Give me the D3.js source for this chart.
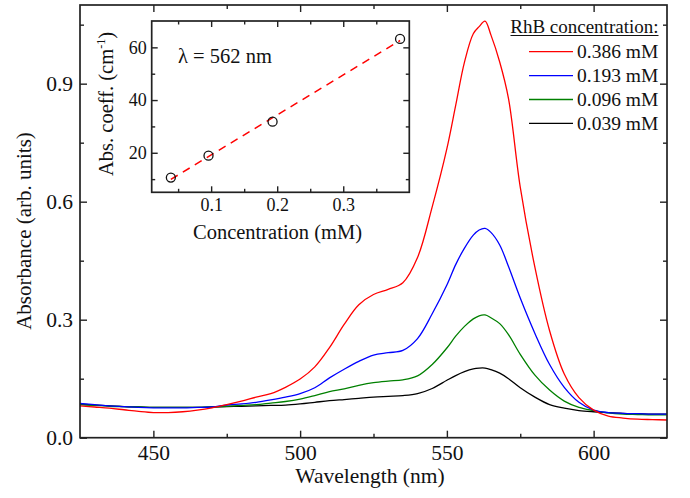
<!DOCTYPE html>
<html>
<head>
<meta charset="utf-8">
<script src="https://cdn.jsdelivr.net/npm/d3@7"></script>
<style>
  html, body { margin: 0; padding: 0; background: #fff; }
  svg { display: block; }
  svg text { font-family: "Liberation Serif", "Times New Roman", serif !important; fill: #111; }
</style>
</head>
<body>
<svg id="chart" width="690" height="498"></svg>
<script>
// Absorption spectra of Rhodamine B solutions (wavelength grid in nm)
const wavelength = [425,430,435,440,445,450,455,460,465,470,475,480,485,490,495,500,505,510,515,520,525,530,535,540,545,550,553,556,559,561,563,565,568,571,575,580,585,590,595,600,605,610,615,620,625];

const abs0386 = [0.081,0.078,0.075,0.071,0.067,0.064,0.064,0.066,0.070,0.076,0.084,0.093,0.103,0.112,0.128,0.149,0.180,0.229,0.288,0.338,0.364,0.377,0.394,0.458,0.587,0.735,0.845,0.955,1.027,1.045,1.059,1.024,0.955,0.862,0.637,0.433,0.272,0.162,0.102,0.070,0.055,0.050,0.047,0.046,0.045];
const abs0193 = [0.087,0.084,0.081,0.079,0.077,0.076,0.076,0.076,0.077,0.078,0.083,0.086,0.090,0.096,0.103,0.112,0.127,0.152,0.174,0.194,0.210,0.216,0.222,0.252,0.315,0.388,0.440,0.482,0.515,0.528,0.532,0.522,0.490,0.435,0.355,0.265,0.186,0.128,0.090,0.070,0.064,0.062,0.061,0.060,0.060];
const abs0096 = [0.084,0.082,0.080,0.079,0.078,0.077,0.077,0.077,0.077,0.078,0.080,0.082,0.084,0.088,0.092,0.098,0.107,0.117,0.124,0.133,0.140,0.144,0.147,0.157,0.186,0.228,0.258,0.283,0.302,0.310,0.312,0.305,0.290,0.262,0.212,0.159,0.121,0.093,0.077,0.069,0.063,0.060,0.059,0.058,0.058];
const abs0039 = [0.085,0.083,0.081,0.079,0.078,0.077,0.077,0.077,0.077,0.078,0.079,0.080,0.081,0.082,0.083,0.086,0.090,0.094,0.097,0.100,0.103,0.105,0.107,0.112,0.125,0.146,0.158,0.168,0.175,0.177,0.177,0.173,0.164,0.150,0.127,0.103,0.084,0.075,0.069,0.066,0.064,0.062,0.061,0.060,0.060];

const seriesLabels = ["0.386 mM", "0.193 mM", "0.096 mM", "0.039 mM"];
const seriesColors = ["#ff0000", "#0000ff", "#008000", "#000000"];
const seriesValues = [abs0386, abs0193, abs0096, abs0039];

const xTicks = [450, 500, 550, 600];
const xMinorTicks = [475, 525, 575];
const yTicks = [0.0, 0.3, 0.6, 0.9];
const yMinorTicks = [0.15, 0.45, 0.75, 1.05];

// Inset: absorption coefficient at 562 nm vs concentration
const concentration = [0.039, 0.096, 0.193, 0.386];
const absCoeff = [10.6, 18.9, 31.8, 63.2];
const fitConcentration = [0.039, 0.386];
const fitCoeff = [9.9, 62.6];
const insetXTicks = [0.1, 0.2, 0.3];
const insetXMinorTicks = [0.05, 0.15, 0.25, 0.35];
const insetYTicks = [20, 40, 60];
const insetYMinorTicks = [10, 30, 50];

const SERIF = "Liberation Serif, Times New Roman, serif";
const svg = d3.select("#chart");

// ---------- main panel ----------
const M = { left: 80, right: 667, top: 5, bottom: 437.7 };
const x = d3.scaleLinear().domain([425, 625]).range([M.left, M.right]);
const y = d3.scaleLinear().domain([0, 1.1]).range([M.bottom, M.top]);

const axisStyle = g => {
  g.attr("font-family", SERIF);
  g.select(".domain").remove();
  g.selectAll(".tick line").attr("stroke", "#222").attr("stroke-width", 1.4);
};

function addAxes(root, xs, ys, box, o) {
  const labelStyle = g => g.selectAll("text")
    .attr("font-size", o.fs).attr("font-family", SERIF).attr("fill", "#111");
  // bottom (labelled)
  root.append("g").attr("transform", `translate(0,${box.bottom})`)
    .call(d3.axisBottom(xs).tickValues(o.xT).tickSize(-o.major).tickPadding(o.padX).tickFormat(o.fx))
    .call(axisStyle).call(labelStyle);
  root.append("g").attr("transform", `translate(0,${box.bottom})`)
    .call(d3.axisBottom(xs).tickValues(o.xM).tickSize(-o.minor).tickFormat(""))
    .call(axisStyle);
  // top
  root.append("g").attr("transform", `translate(0,${box.top})`)
    .call(d3.axisTop(xs).tickValues(o.xT).tickSize(-o.major).tickFormat(""))
    .call(axisStyle);
  root.append("g").attr("transform", `translate(0,${box.top})`)
    .call(d3.axisTop(xs).tickValues(o.xM).tickSize(-o.minor).tickFormat(""))
    .call(axisStyle);
  // left (labelled)
  root.append("g").attr("transform", `translate(${box.left},0)`)
    .call(d3.axisLeft(ys).tickValues(o.yT).tickSize(-o.major).tickPadding(o.padY).tickFormat(o.fy))
    .call(axisStyle).call(labelStyle);
  root.append("g").attr("transform", `translate(${box.left},0)`)
    .call(d3.axisLeft(ys).tickValues(o.yM).tickSize(-o.minor).tickFormat(""))
    .call(axisStyle);
  // right
  root.append("g").attr("transform", `translate(${box.right},0)`)
    .call(d3.axisRight(ys).tickValues(o.yT).tickSize(-o.major).tickFormat(""))
    .call(axisStyle);
  root.append("g").attr("transform", `translate(${box.right},0)`)
    .call(d3.axisRight(ys).tickValues(o.yM).tickSize(-o.minor).tickFormat(""))
    .call(axisStyle);
  // frame
  root.append("rect")
    .attr("x", box.left).attr("y", box.top)
    .attr("width", box.right - box.left).attr("height", box.bottom - box.top)
    .attr("fill", "none").attr("stroke", "#222").attr("stroke-width", 1.7);
}

// spectra
const line = d3.line()
  .x((d, i) => x(wavelength[i]))
  .y(d => y(d))
  .curve(d3.curveCatmullRom.alpha(0.5));

svg.append("defs").append("clipPath").attr("id", "mainClip")
  .append("rect").attr("x", M.left).attr("y", M.top)
  .attr("width", M.right - M.left).attr("height", M.bottom - M.top);

svg.append("g").attr("clip-path", "url(#mainClip)")
  .selectAll("path.spectrum")
  .data(seriesValues.slice().reverse())
  .join("path")
  .attr("class", "spectrum")
  .attr("d", d => line(d))
  .attr("fill", "none")
  .attr("stroke", (d, i) => seriesColors[seriesColors.length - 1 - i])
  .attr("stroke-width", 1.3);

addAxes(svg, x, y, M, {
  xT: xTicks, xM: xMinorTicks, yT: yTicks, yM: yMinorTicks,
  major: 7, minor: 4, padX: 7, padY: 7, fs: 21.5,
  fx: d3.format("d"), fy: d3.format(".1f")
});

svg.append("text")
  .attr("x", 370).attr("y", 483)
  .attr("text-anchor", "middle").attr("font-size", 21.5).attr("font-family", SERIF)
  .text("Wavelength (nm)");

svg.append("text")
  .attr("transform", "translate(31,231) rotate(-90)")
  .attr("text-anchor", "middle").attr("font-size", 21).attr("font-family", SERIF)
  .text("Absorbance (arb. units)");

// legend
const legX0 = 529, legX1 = 573, legTextX = 577, legY0 = 51.7, legDy = 23.9;
svg.append("text")
  .attr("x", 658.5).attr("y", 33)
  .attr("text-anchor", "end").attr("font-size", 19).attr("font-family", SERIF)
  .text("RhB concentration:");
svg.append("line")
  .attr("x1", 510.5).attr("x2", 658.5).attr("y1", 35.5).attr("y2", 35.5)
  .attr("stroke", "#111").attr("stroke-width", 1);

const leg = svg.append("g").selectAll("g")
  .data(seriesLabels)
  .join("g")
  .attr("transform", (d, i) => `translate(0,${legY0 + i * legDy})`);
leg.append("line")
  .attr("x1", legX0).attr("x2", legX1)
  .attr("stroke", (d, i) => seriesColors[i]).attr("stroke-width", 1.3);
leg.append("text")
  .attr("x", legTextX).attr("dy", "0.34em")
  .attr("font-size", 19.5).attr("font-family", SERIF)
  .text(d => d);

// ---------- inset ----------
const I = { left: 151.7, right: 409.3, top: 21, bottom: 192.3 };
const xi = d3.scaleLinear().domain([0.01, 0.4]).range([I.left, I.right]);
const yi = d3.scaleLinear().domain([5, 70]).range([I.bottom, I.top]);

const inset = svg.append("g");
inset.append("rect")
  .attr("x", I.left).attr("y", I.top)
  .attr("width", I.right - I.left).attr("height", I.bottom - I.top)
  .attr("fill", "#fff");

inset.append("path")
  .attr("d", d3.line().x(d => xi(d)).y((d, i) => yi(fitCoeff[i]))(fitConcentration))
  .attr("fill", "none").attr("stroke", "#ff0000")
  .attr("stroke-width", 1.5).attr("stroke-dasharray", "8,6");

inset.selectAll("circle")
  .data(concentration)
  .join("circle")
  .attr("cx", d => xi(d))
  .attr("cy", (d, i) => yi(absCoeff[i]))
  .attr("r", 4.5)
  .attr("fill", "none").attr("stroke", "#111").attr("stroke-width", 1.3);

addAxes(inset, xi, yi, I, {
  xT: insetXTicks, xM: insetXMinorTicks, yT: insetYTicks, yM: insetYMinorTicks,
  major: 6, minor: 3.5, padX: 6, padY: 5, fs: 18,
  fx: d3.format(".1f"), fy: d3.format("d")
});

inset.append("text")
  .attr("x", 277.5).attr("y", 239)
  .attr("text-anchor", "middle").attr("font-size", 20.5).attr("font-family", SERIF)
  .text("Concentration (mM)");

const yLab = inset.append("text")
  .attr("transform", "translate(113,104) rotate(-90)")
  .attr("text-anchor", "middle").attr("font-size", 20.5).attr("font-family", SERIF);
yLab.append("tspan").text("Abs. coeff. (cm");
yLab.append("tspan").attr("font-size", 12).attr("dy", -8).text("-1");
yLab.append("tspan").attr("dy", 8).text(")");

inset.append("text")
  .attr("x", 178).attr("y", 63)
  .attr("font-size", 20.5).attr("font-family", SERIF)
  .text("λ = 562 nm");
</script>
</body>
</html>
